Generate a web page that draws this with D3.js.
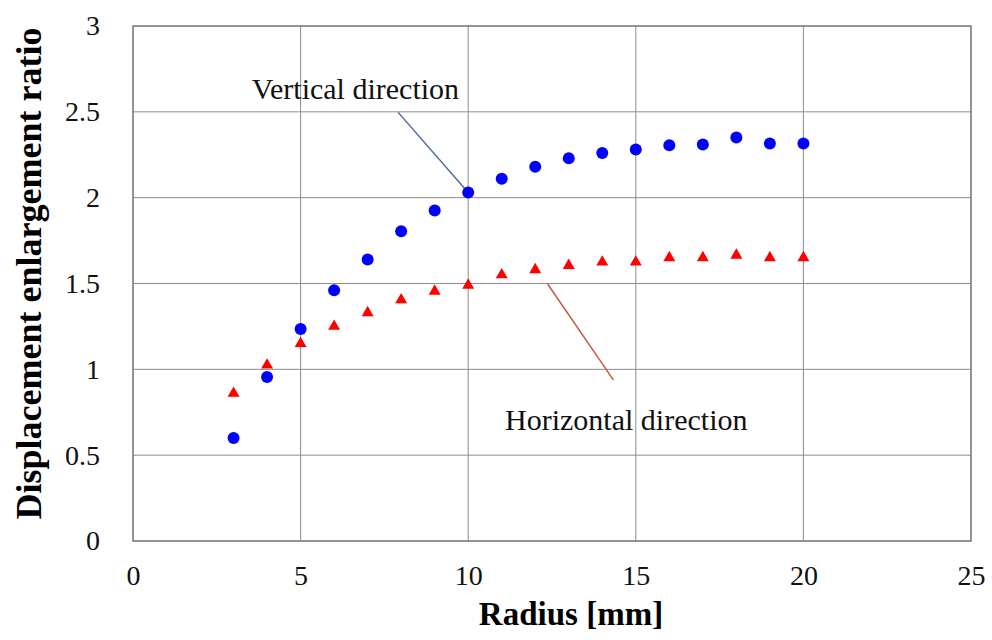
<!DOCTYPE html>
<html>
<head>
<meta charset="utf-8">
<script src="https://cdn.jsdelivr.net/npm/d3@7/dist/d3.min.js"></script>
<style>
  body { margin: 0; background: #fff; }
  svg text { font-family: "Liberation Serif", "Times New Roman", serif; }
</style>
</head>
<body>
<div id="chart"></div>
<script>
  var width = 992;
  var height = 640;

  // data
  var radius = [3, 4, 5, 6, 7, 8, 9, 10, 11, 12, 13, 14, 15, 16, 17, 18, 19, 20];
  var vertical = [0.6, 0.955, 1.235, 1.46, 1.64, 1.805, 1.925, 2.03, 2.11, 2.18, 2.23, 2.26, 2.28, 2.305, 2.31, 2.35, 2.315, 2.315];
  var horizontal = [0.86, 1.025, 1.15, 1.25, 1.33, 1.405, 1.455, 1.49, 1.55, 1.58, 1.605, 1.625, 1.625, 1.65, 1.65, 1.665, 1.65, 1.65];
  var xTicks = [0, 5, 10, 15, 20, 25];
  var yTicks = [0, 0.5, 1, 1.5, 2, 2.5, 3];

  // annotations (data units): label position, leader start, leader end
  var notes = [
    { text: "Vertical direction", tx: 3.54, ty: 2.573, x1: 7.91, y1: 2.497, x2: 10, y2: 2.03, color: "#46679a" },
    { text: "Horizontal direction", tx: 11.1, ty: 0.647, x1: 12.37, y1: 1.497, x2: 14.33, y2: 0.938, color: "#c0573a" }
  ];

  var margin = {left: 133, right: 21, top: 26, bottom: 99};
  var w = width - margin.left - margin.right,
      h = height - margin.top - margin.bottom;

  var svg = d3.select("#chart").append("svg")
      .attr("width", width).attr("height", height);
  var g = svg.append("g")
      .attr("transform", "translate(" + margin.left + "," + margin.top + ")");

  var x = d3.scaleLinear().domain([0, 25]).range([0, w]);
  var y = d3.scaleLinear().domain([0, 3]).range([h, 0]);

  // grid
  g.append("g").selectAll("line").data(xTicks).enter().append("line")
      .attr("x1", function(d) { return x(d); }).attr("x2", function(d) { return x(d); })
      .attr("y1", 0).attr("y2", h)
      .attr("stroke", "#8c8c8c").attr("stroke-width", 1);
  g.append("g").selectAll("line").data(yTicks).enter().append("line")
      .attr("y1", function(d) { return y(d); }).attr("y2", function(d) { return y(d); })
      .attr("x1", 0).attr("x2", w)
      .attr("stroke", "#8c8c8c").attr("stroke-width", 1);
  g.append("rect")
      .attr("width", w).attr("height", h)
      .attr("fill", "none").attr("stroke", "#7a7a7a").attr("stroke-width", 1.3);

  // axes (labels only)
  var fmt = function(d) { return String(d); };
  var xAxis = g.append("g")
      .attr("transform", "translate(0," + h + ")")
      .call(d3.axisBottom(x).tickValues(xTicks).tickFormat(fmt).tickSize(0).tickPadding(24));
  var yAxis = g.append("g")
      .call(d3.axisLeft(y).tickValues(yTicks).tickFormat(fmt).tickSize(0).tickPadding(33));
  [xAxis, yAxis].forEach(function(a) {
    a.attr("font-family", "Liberation Serif").attr("font-size", 28);
    a.select(".domain").remove();
    a.selectAll("text").attr("fill", "#111");
  });

  // axis titles
  g.append("text")
      .attr("x", w / 2 + 19).attr("y", h + 84)
      .attr("text-anchor", "middle")
      .style("font-size", "33px").style("font-weight", "bold")
      .text("Radius [mm]");
  g.append("text")
      .attr("transform", "translate(" + (-92) + "," + (h / 2 - 10) + ") rotate(-90)")
      .attr("text-anchor", "middle")
      .style("font-size", "36px").style("font-weight", "bold")
      .text("Displacement enlargement ratio");

  // leader lines and labels
  notes.forEach(function(n) {
    g.append("line")
      .attr("x1", x(n.x1)).attr("y1", y(n.y1))
      .attr("x2", x(n.x2)).attr("y2", y(n.y2))
      .attr("stroke", n.color).attr("stroke-width", 1.4);
    g.append("text")
      .attr("x", x(n.tx)).attr("y", y(n.ty))
      .style("font-size", "30px")
      .attr("fill", "#111")
      .text(n.text);
  });

  // points
  g.append("g").selectAll("circle").data(radius).enter().append("circle")
      .attr("cx", function(d) { return x(d); })
      .attr("cy", function(d, i) { return y(vertical[i]); })
      .attr("r", 6)
      .attr("fill", "#0000ff");

  var tri = d3.symbol().type(d3.symbolTriangle).size(62);
  g.append("g").selectAll("path").data(radius).enter().append("path")
      .attr("d", tri)
      .attr("transform", function(d, i) { return "translate(" + x(d) + "," + y(horizontal[i]) + ")"; })
      .attr("fill", "#ff0000");
</script>
</body>
</html>
